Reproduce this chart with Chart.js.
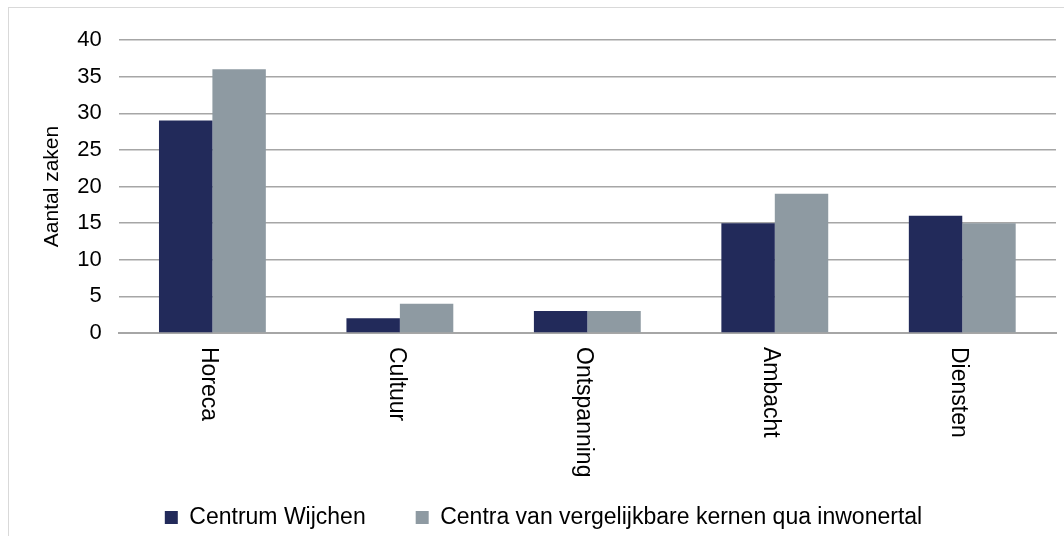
<!DOCTYPE html>
<html lang="nl">
<head>
  <meta charset="UTF-8" />
  <title>Aantal zaken</title>
  <script src="https://cdn.jsdelivr.net/npm/chart.js"></script>
  <style>
    html, body { margin: 0; padding: 0; background: #fff; }
    #wrap {
      position: absolute;
      left: 8px; top: 7px;
      width: 1056px; height: 529px;
      border-left: 1px solid #d9d9d9;
      border-top: 1px solid #d9d9d9;
    }
  </style>
</head>
<body>
  <div id="wrap"><canvas id="chart"></canvas></div>

  <script>
    const categories = ["Horeca", "Cultuur", "Ontspanning", "Ambacht", "Diensten"];
    const wijchen = [29, 2, 3, 15, 16];
    const vergelijkbaar = [36, 4, 3, 19, 15];
    const seriesNames = ["Centrum Wijchen", "Centra van vergelijkbare kernen qua inwonertal"];
    const yTicks = [0, 5, 10, 15, 20, 25, 30, 35, 40];

    const font = "'Liberation Sans', Arial, sans-serif";

    // category labels read top-to-bottom, so draw them ourselves at the scale's positions
    const downLabels = {
      id: 'downLabels',
      afterDraw(chart) {
        const sx = chart.scales.x;
        const ctx = chart.ctx;
        ctx.save();
        ctx.font = "23px " + font;
        ctx.fillStyle = '#000';
        ctx.textAlign = 'left';
        ctx.textBaseline = 'middle';
        categories.forEach((c, i) => {
          ctx.save();
          ctx.translate(sx.getPixelForValue(i) - 4, sx.top + 14);
          ctx.rotate(Math.PI / 2);
          ctx.fillText(c, 0, 0);
          ctx.restore();
        });
        ctx.restore();
      }
    };

    new Chart(document.getElementById("chart"), {
      type: 'bar',
      data: {
        labels: categories,
        datasets: [
          { label: seriesNames[0], data: wijchen, backgroundColor: '#222a5a' },
          { label: seriesNames[1], data: vergelijkbaar, backgroundColor: '#8e9aa2' }
        ]
      },
      options: {
        responsive: true,
        maintainAspectRatio: false,
        animation: false,
        layout: { padding: { top: 32, right: 9, left: 22, bottom: -2 } },
        datasets: { bar: { barPercentage: 1, categoryPercentage: 0.57 } },
        plugins: {
          legend: {
            position: 'bottom',
            labels: {
              font: { family: font, size: 23 },
              color: '#000',
              boxWidth: 13,
              boxHeight: 13,
              padding: 50
            }
          },
          tooltip: { enabled: false }
        },
        scales: {
          x: {
            grid: { display: false },
            border: { color: '#a6a6a6', width: 2 },
            ticks: { display: false },
            afterFit: s => { s.height = 123; }
          },
          y: {
            min: 0,
            max: 40,
            afterBuildTicks: axis => { axis.ticks = yTicks.map(v => ({ value: v })); },
            grid: { color: '#a6a6a6', lineWidth: 1.5, drawTicks: false },
            border: { display: false },
            ticks: {
              font: { family: font, size: 22 },
              color: '#000',
              padding: 17
            },
            title: {
              display: true,
              text: 'Aantal zaken',
              font: { family: font, size: 21 },
              color: '#000',
              padding: { top: 9, bottom: -5 }
            }
          }
        }
      },
      plugins: [downLabels]
    });
  </script>
</body>
</html>
